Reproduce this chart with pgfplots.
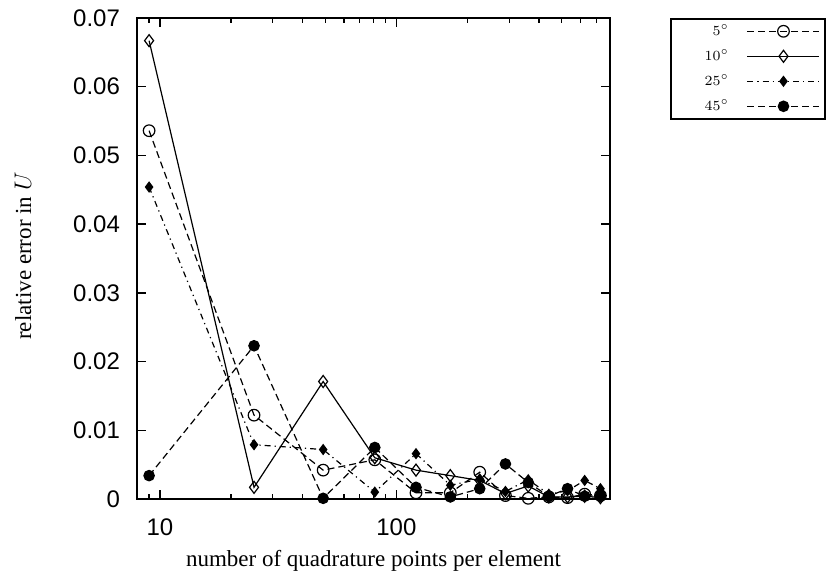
\documentclass[border=0pt]{standalone}
\usepackage{fontspec}
\usepackage{pgfplots}
\pgfplotsset{compat=1.18}
\setmainfont{Liberation Serif}
\newfontfamily\tickfont{Liberation Sans}

\begin{document}
\begin{tikzpicture}
\path[use as bounding box] (0,0) rectangle (414pt,291.5pt);
\begin{axis}[
  at={(68.5pt,42pt)}, anchor=south west,
  scale only axis, width=236.5pt, height=240.5pt,
  xmode=log, xmin=8, xmax=800,
  ymin=0, ymax=0.07,
  scaled y ticks=false,
  xtick={10,100}, xticklabels={10,100},
  minor xtick={8,9,20,30,40,50,60,70,80,90,200,300,400,500,600,700,800},
  ytick={0,0.01,0.02,0.03,0.04,0.05,0.06,0.07},
  yticklabels={0,0.01,0.02,0.03,0.04,0.05,0.06,0.07},
  tick align=inside,
  major tick length=4.5pt, minor tick length=2.5pt,
  every tick/.style={black, line width=0.7pt},
  axis line style={line width=0.8pt},
  ticklabel style={font=\tickfont\fontsize{12}{14}\selectfont},
  xticklabel style={yshift=-6.5pt},
  yticklabel style={xshift=-5pt},
  xlabel={number of quadrature points per element},
  xlabel style={at={(axis description cs:0.5,0)}, anchor=center, yshift=-31pt, font=\fontsize{11.5}{13}\selectfont},
  ylabel={relative error in $U$},
  ylabel style={at={(axis description cs:-0.241,0.505)}, anchor=center, font=\fontsize{11.5}{13}\selectfont},
  clip=false,
  legend plot pos=right,
  legend cell align=right,
  legend image code/.code={\draw[#1,mark repeat=2,mark phase=2] plot coordinates {(0pt,0pt)(18pt,0pt)(36pt,0pt)};},
  legend style={at={(axis description cs:1.127,1)}, anchor=north west,
    draw=black, line width=0.8pt, inner xsep=2.5pt, inner ysep=0pt,
    column sep=9pt, row sep=0pt,
    nodes={minimum height=12.5pt, inner ysep=0pt, inner xsep=0pt},
    font=\fontsize{7.5}{9}\selectfont},
]
% 5 degrees
\addplot[black, line width=0.6pt, dash pattern=on 3.5pt off 2pt,
  mark=o, mark size=2.9pt, mark options={solid, line width=0.6pt}]
  coordinates {(9,0.0536)(25,0.0122)(49,0.0042)(81,0.0057)(121,0.0009)(169,0.0009)(225,0.0039)(289,0.0005)(361,0.0001)(441,0.0003)(529,0.0002)(625,0.0007)(729,0.0005)};
\addlegendentry{\makebox[26.5pt][r]{$5^\circ$}}
% 10 degrees
\addplot[black, line width=0.6pt, solid,
  mark=diamond, mark size=3pt, mark options={solid, fill=white, line width=0.6pt}]
  coordinates {(9,0.0667)(25,0.0017)(49,0.0171)(81,0.0060)(121,0.0042)(169,0.0034)(225,0.0027)(289,0.0008)(361,0.0019)(441,0.0003)(529,0.0003)(625,0.0004)(729,0.0002)};
\addlegendentry{\makebox[26.5pt][r]{$10^\circ$}}
% 25 degrees
\addplot[black, line width=0.6pt, dash pattern=on 3pt off 2pt on 0.6pt off 2pt,
  mark=diamond*, mark size=2.4pt, mark options={solid}]
  coordinates {(9,0.0454)(25,0.0079)(49,0.0072)(81,0.0010)(121,0.0066)(169,0.0020)(225,0.0029)(289,0.0011)(361,0.0028)(441,0.0007)(529,0.0012)(625,0.0027)(729,0.0015)};
\addlegendentry{\makebox[26.5pt][r]{$25^\circ$}}
% 45 degrees
\addplot[black, line width=0.6pt, dash pattern=on 3.5pt off 2pt,
  mark=*, mark size=2.6pt, mark options={solid}]
  coordinates {(9,0.0034)(25,0.0223)(49,0.0001)(81,0.0075)(121,0.0017)(169,0.0003)(225,0.0015)(289,0.0051)(361,0.0024)(441,0.0004)(529,0.0015)(625,0.0004)(729,0.0005)};
\addlegendentry{\makebox[26.5pt][r]{$45^\circ$}}
\end{axis}
\end{tikzpicture}
\end{document}
